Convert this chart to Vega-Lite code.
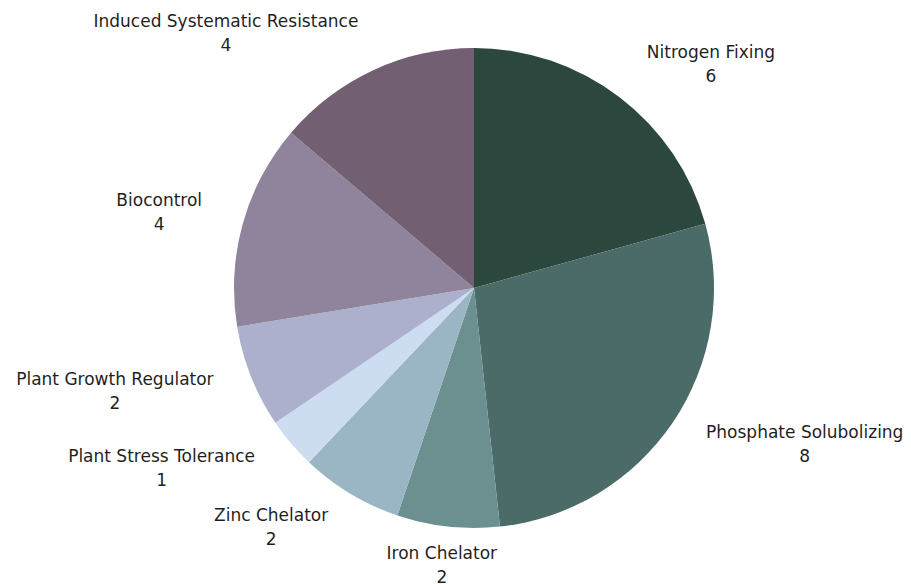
{
  "$schema": "https://vega.github.io/schema/vega-lite/v6.json",
  "width": 874,
  "height": 576,
  "autosize": {"type": "none"},
  "padding": {"left": 37, "top": 0, "right": 0, "bottom": 8},
  "background": "white",
  "config": {"view": {"stroke": null}, "font": "DejaVu Sans"},
  "data": {
    "values": [
      {"category": "Nitrogen Fixing", "value": 6},
      {"category": "Phosphate Solubolizing", "value": 8},
      {"category": "Iron Chelator", "value": 2},
      {"category": "Zinc Chelator", "value": 2},
      {"category": "Plant Stress Tolerance", "value": 1},
      {"category": "Plant Growth Regulator", "value": 2},
      {"category": "Biocontrol", "value": 4},
      {"category": "Induced Systematic Resistance", "value": 4}
    ]
  },
  "transform": [
    {"window": [{"op": "row_number", "as": "idx"}]},
    {"joinaggregate": [{"op": "sum", "field": "value", "as": "total"}]},
    {"stack": "value", "groupby": [], "sort": [{"field": "idx", "order": "ascending"}], "as": ["v0", "v1"]},
    {"calculate": "(datum.v0 + datum.v1) / 2 / datum.total * 2 * PI", "as": "ang"},
    {"calculate": "length(datum.category) * 4.5", "as": "hw"},
    {"calculate": "437 + 280 * sin(datum.ang) + (sin(datum.ang) < 0 ? -1 : 1) * datum.hw * clamp((abs(sin(datum.ang)) - 0.1) * 4, 0, 1)", "as": "lx"},
    {"calculate": "288 - 280 * cos(datum.ang)", "as": "ly"}
  ],
  "layer": [
    {
      "mark": {"type": "arc", "outerRadius": 240},
      "encoding": {
        "theta": {"field": "value", "type": "quantitative", "stack": true},
        "order": {"field": "idx", "type": "quantitative"},
        "color": {
          "field": "category",
          "type": "nominal",
          "legend": null,
          "scale": {
            "domain": ["Nitrogen Fixing", "Phosphate Solubolizing", "Iron Chelator", "Zinc Chelator", "Plant Stress Tolerance", "Plant Growth Regulator", "Biocontrol", "Induced Systematic Resistance"],
            "range": ["#2c473e", "#4a6b67", "#6c8f90", "#9ab5c3", "#ccdcf1", "#acb0cc", "#8f849c", "#725f71"]
          }
        }
      }
    },
    {
      "mark": {"type": "text", "dy": -12, "fontSize": 17, "color": "#1f1f1f", "align": "center", "baseline": "middle"},
      "encoding": {
        "x": {"field": "lx", "type": "quantitative", "scale": null},
        "y": {"field": "ly", "type": "quantitative", "scale": null},
        "text": {"field": "category", "type": "nominal"}
      }
    },
    {
      "mark": {"type": "text", "dy": 12, "fontSize": 17, "color": "#1f1f1f", "align": "center", "baseline": "middle"},
      "encoding": {
        "x": {"field": "lx", "type": "quantitative", "scale": null},
        "y": {"field": "ly", "type": "quantitative", "scale": null},
        "text": {"field": "value", "type": "quantitative"}
      }
    }
  ]
}
